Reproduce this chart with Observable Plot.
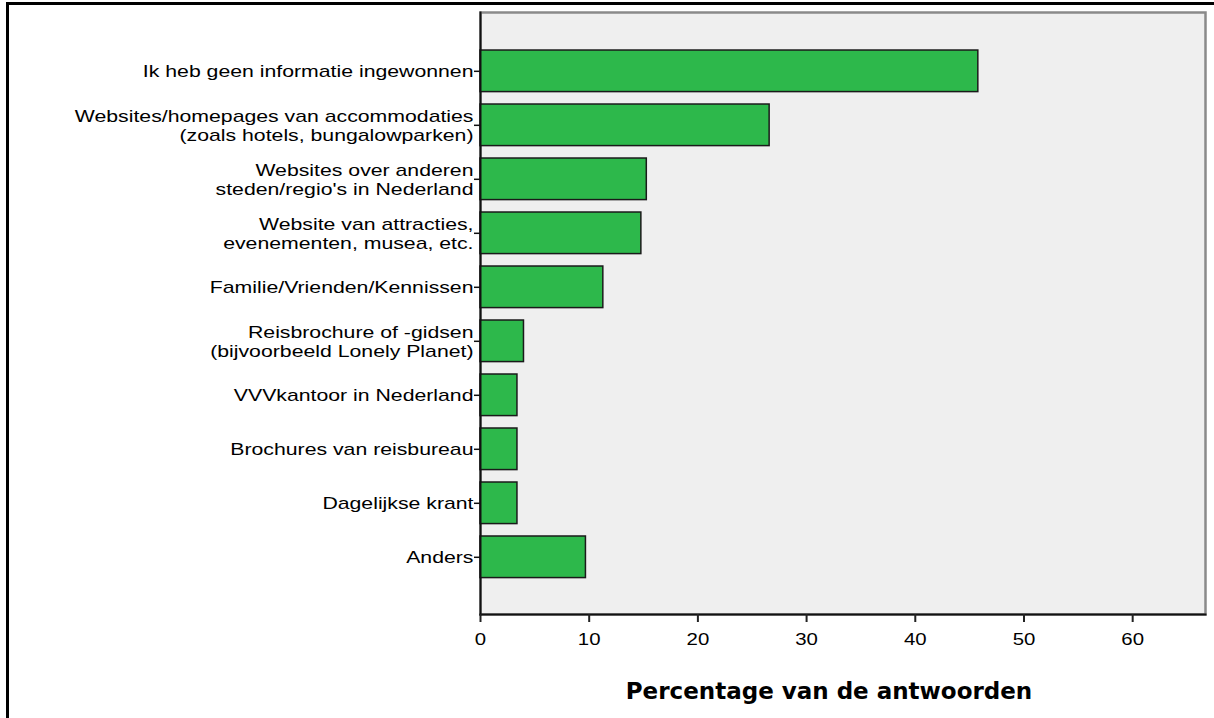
<!DOCTYPE html>
<html>
<head>
<meta charset="utf-8">
<script src="https://cdn.jsdelivr.net/npm/d3@7"></script>
<script src="https://cdn.jsdelivr.net/npm/@observablehq/plot@0.6"></script>
<style>
  html, body { margin: 0; padding: 0; background: #fff; }
  #wrap { position: relative; width: 1214px; height: 718px; overflow: hidden; }
  #border { position: absolute; left: 6px; top: 2px; width: 1300px; height: 800px;
            border-left: 3px solid #000; border-top: 3px solid #000; pointer-events: none; }
</style>
</head>
<body>
<div id="wrap"><div id="chart"></div><div id="border"></div></div>
<script>
const categories = [
  "Ik heb geen informatie ingewonnen",
  "Websites/homepages van accommodaties\n(zoals hotels, bungalowparken)",
  "Websites over anderen\nsteden/regio's in Nederland",
  "Website van attracties,\nevenementen, musea, etc.",
  "Familie/Vrienden/Kennissen",
  "Reisbrochure of -gidsen\n(bijvoorbeeld Lonely Planet)",
  "VVVkantoor in Nederland",
  "Brochures van reisbureau",
  "Dagelijkse krant",
  "Anders"
];
const percentages = [45.8, 26.6, 15.3, 14.8, 11.3, 4.0, 3.4, 3.4, 3.4, 9.7];
const xTicks = [0, 10, 20, 30, 40, 50, 60];
const xTitle = "Percentage van de antwoorden";

const data = categories.map((c, i) => ({category: c, value: percentages[i]}));

const chart = Plot.plot({
  width: 1214,
  height: 718,
  marginLeft: 480,
  marginRight: 9,
  marginTop: 12,
  marginBottom: 104,
  style: { fontFamily: "'Liberation Sans', Arial, sans-serif", fontSize: "17px", color: "#000", background: "transparent" },
  x: { domain: [0, 66.7], ticks: xTicks },
  y: { domain: categories, padding: 0.23, round: false, insetTop: 25.6, insetBottom: 24 },
  marks: [
    Plot.frame({ fill: "#efefef", stroke: "#8a8a8a", strokeWidth: 2.5 }),
    Plot.barX(data, { x: "value", y: "category", fill: "#2db84b", stroke: "#1a1a1a", strokeWidth: 1.5 }),
    Plot.frame({ anchor: "left", stroke: "#111", strokeWidth: 2 }),
    Plot.frame({ anchor: "bottom", stroke: "#111", strokeWidth: 2 }),
    Plot.axisY({ tickSize: 6, tickPadding: 1, label: null, stroke: "#111", strokeWidth: 1.5, lineHeight: 1.1 }),
    Plot.axisX({ ticks: xTicks, tickSize: 8, tickPadding: 10, stroke: "#222", strokeWidth: 2, label: null }),
    Plot.text([xTitle], { text: d => d, frameAnchor: "bottom", dy: 77, dx: -14, lineAnchor: "middle",
                          fontFamily: "'DejaVu Sans', sans-serif", fontWeight: "bold", fontSize: 23, fill: "#000" })
  ]
});
document.getElementById("chart").appendChild(chart);

// widen tick labels horizontally to match the reference's stretched type
function stretch(selector, sx) {
  chart.querySelectorAll(selector).forEach(t => {
    const tr = t.getAttribute("transform") || "";
    t.setAttribute("transform", tr + ` scale(${sx},1)`);
  });
}
stretch('g[aria-label="y-axis tick label"] text', 1.25);
stretch('g[aria-label="x-axis tick label"] text', 1.2);
</script>
</body>
</html>
